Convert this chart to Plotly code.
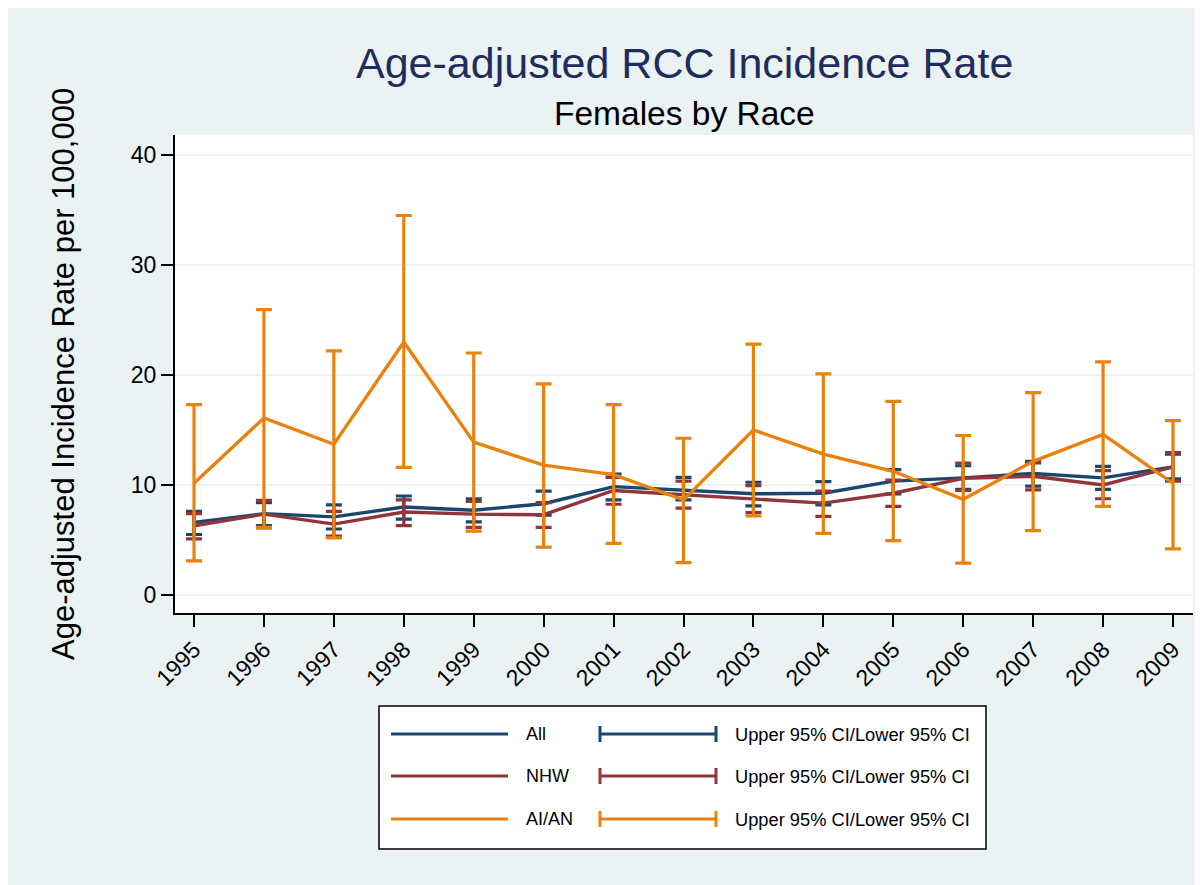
import plotly.graph_objects as go

years = [1995, 1996, 1997, 1998, 1999, 2000, 2001, 2002, 2003, 2004, 2005, 2006, 2007, 2008, 2009]

all_rate = [6.6, 7.4, 7.1, 8.0, 7.7, 8.3, 9.85, 9.55, 9.2, 9.25, 10.35, 10.65, 11.05, 10.65, 11.65]
all_upper = [7.6, 8.4, 8.2, 9.0, 8.75, 9.45, 11.0, 10.7, 10.25, 10.3, 11.4, 11.75, 12.15, 11.7, 12.8]
all_lower = [5.5, 6.3, 6.0, 6.9, 6.65, 7.25, 8.65, 8.65, 8.1, 8.2, 9.2, 9.6, 9.9, 9.6, 10.55]

nhw_rate = [6.3, 7.35, 6.45, 7.55, 7.35, 7.3, 9.5, 9.1, 8.7, 8.35, 9.25, 10.6, 10.8, 10.0, 11.65]
nhw_upper = [7.4, 8.6, 7.6, 8.65, 8.5, 8.4, 10.7, 10.35, 9.95, 9.45, 10.45, 12.0, 12.0, 11.3, 12.95]
nhw_lower = [5.1, 6.1, 5.35, 6.3, 6.15, 6.15, 8.25, 7.9, 7.5, 7.15, 8.05, 9.5, 9.55, 8.75, 10.35]

aian_rate = [10.15, 16.1, 13.7, 23.0, 13.9, 11.8, 10.95, 8.65, 15.0, 12.8, 11.25, 8.7, 12.15, 14.6, 10.15]
aian_upper = [17.3, 25.95, 22.2, 34.5, 22.0, 19.2, 17.3, 14.25, 22.8, 20.1, 17.6, 14.5, 18.4, 21.2, 15.85]
aian_lower = [3.1, 6.15, 5.2, 11.6, 5.8, 4.35, 4.7, 2.95, 7.2, 5.6, 4.95, 2.9, 5.85, 8.05, 4.2]

series_names = ["All", "NHW", "AI/AN"]
ci_label = "Upper 95% CI/Lower 95% CI"
colors = ["#1A476F", "#90353B", "#E8820C"]
y_ticks = [0, 10, 20, 30, 40]

title_text = "Age-adjusted RCC Incidence Rate"
subtitle_text = "Females by Race"
ytitle_text = "Age-adjusted Incidence Rate per 100,000"

OFF = 8  # page offset of the figure inside the browser
W, H = 1203 - OFF, 885 - OFF
# plot area in page pixels
L, R, T, B = 175, 1193, 135, 613
FONT = "Liberation Sans, Arial, sans-serif"
BG = "#EAF2F3"


def px(x):
    return (x - L) / (R - L)


def py(y):
    return (B - y) / (B - T)


fig = go.Figure()
data = [
    (all_rate, all_upper, all_lower),
    (nhw_rate, nhw_upper, nhw_lower),
    (aian_rate, aian_upper, aian_lower),
]
for name, color, (rate, up, lo) in zip(series_names, colors, data):
    fig.add_trace(go.Scatter(
        x=years, y=rate, mode="lines", name=name,
        line=dict(color=color, width=3.4),
        error_y=dict(type="data", symmetric=False,
                     array=[u - r for u, r in zip(up, rate)],
                     arrayminus=[r - l for r, l in zip(rate, lo)],
                     color=color, thickness=3.2, width=8),
        showlegend=False,
    ))

shapes = []
annotations = []

# legend box
shapes.append(dict(type="rect", xref="paper", yref="paper", x0=px(379), x1=px(986), y0=py(849), y1=py(706),
                   fillcolor="white", line=dict(color="black", width=1.5), layer="above"))
row_y = [734, 776, 819]
for name, color, ry in zip(series_names, colors, row_y):
    shapes.append(dict(type="line", xref="paper", yref="paper", x0=px(391), x1=px(508), y0=py(ry), y1=py(ry),
                       line=dict(color=color, width=3), layer="above"))
    shapes.append(dict(type="line", xref="paper", yref="paper", x0=px(600), x1=px(716), y0=py(ry), y1=py(ry),
                       line=dict(color=color, width=3), layer="above"))
    for cx in (600, 716):
        shapes.append(dict(type="line", xref="paper", yref="paper", x0=px(cx), x1=px(cx), y0=py(ry - 8), y1=py(ry + 8),
                           line=dict(color=color, width=3), layer="above"))
    annotations.append(dict(text=name, xref="paper", yref="paper", x=px(524), y=py(ry), xanchor="left",
                            yanchor="middle", showarrow=False, font=dict(family=FONT, size=18, color="black")))
    annotations.append(dict(text=ci_label, xref="paper", yref="paper", x=px(733), y=py(ry), xanchor="left",
                            yanchor="middle", showarrow=False, font=dict(family=FONT, size=18.3, color="black")))

# titles
annotations.append(dict(text=title_text, xref="paper", yref="paper", x=px(684), y=py(63), xanchor="center",
                        yanchor="middle", showarrow=False, font=dict(family=FONT, size=43, color="#1F2D5C")))
annotations.append(dict(text=subtitle_text, xref="paper", yref="paper", x=px(684), y=py(113), xanchor="center",
                        yanchor="middle", showarrow=False, font=dict(family=FONT, size=33.5, color="black")))
annotations.append(dict(text=ytitle_text, xref="paper", yref="paper", x=px(63), y=py(374), xanchor="center",
                        yanchor="middle", textangle=-90, showarrow=False,
                        font=dict(family=FONT, size=31, color="black")))

fig.update_layout(
    width=W, height=H,
    margin=dict(l=L - OFF, r=W - (R - OFF), t=T - OFF, b=H - (B - OFF), pad=0),
    paper_bgcolor=BG, plot_bgcolor="white",
    shapes=shapes, annotations=annotations,
    font=dict(family=FONT, color="black"),
    xaxis=dict(range=[1994.728, 2009.286], tickmode="array", tickvals=years,
               ticktext=[str(y) for y in years], tickangle=-45, ticks="outside", ticklen=12,
               tickwidth=1.5, tickcolor="black", showline=True, linecolor="black", linewidth=2,
               showgrid=False, zeroline=False, tickfont=dict(size=23, family=FONT, color="black")),
    yaxis=dict(range=[-1.636, 41.82], tickmode="array", tickvals=y_ticks, ticks="outside", ticklen=12,
               tickwidth=1.5, tickcolor="black", showline=True, linecolor="black", linewidth=2,
               showgrid=True, gridcolor=BG, gridwidth=2, zeroline=True, zerolinecolor=BG, zerolinewidth=2,
               tickfont=dict(size=23, family=FONT, color="black")),
)

fig.write_html("out.html")
